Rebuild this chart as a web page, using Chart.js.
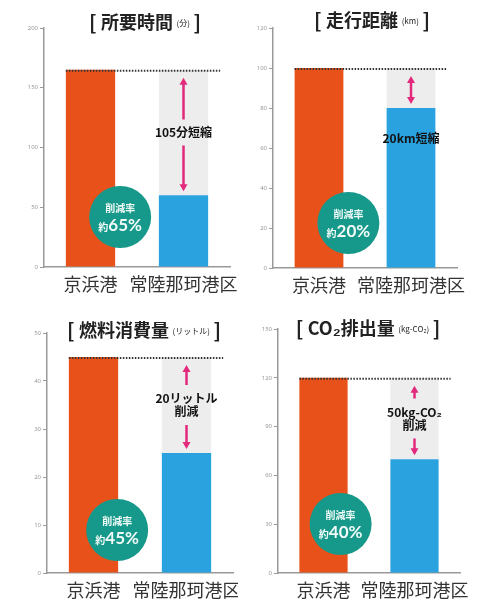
<!DOCTYPE html>
<html lang="ja">
<head>
<meta charset="utf-8">
<script src="https://cdn.jsdelivr.net/npm/chart.js@4"></script>
<style>
  body { margin: 0; background: #fff; }
  #wrap { position: relative; width: 477px; height: 605px; }
  canvas { position: absolute; }
</style>
</head>
<body>
<div id="wrap">
  <canvas id="c1" width="238" height="302" style="left:0;top:0"></canvas>
  <canvas id="c2" width="239" height="302" style="left:238px;top:0"></canvas>
  <canvas id="c3" width="238" height="303" style="left:0;top:302px"></canvas>
  <canvas id="c4" width="239" height="303" style="left:238px;top:302px"></canvas>
</div>
<script>
// 港別の比較データ
var categories = ['京浜港', '常陸那珂港区'];
var timeValues = [165, 60];       // 所要時間 (分)
var distanceValues = [100, 80];   // 走行距離 (km)
var fuelValues = [45, 25];        // 燃料消費量 (リットル)
var co2Values = [120, 70];        // CO2排出量 (kg-CO2)
var rateLabels = ['65%', '20%', '45%', '40%'];
var cutLabels = [['105分短縮'], ['20km短縮'], ['20リットル', '削減'], ['50kg-CO₂', '削減']];

var ORANGE = '#e8521a';
var BLUE = '#2aa2e0';
var GREEN = '#16988a';
var PINK = '#e2297c';
var JP = '"Noto Sans CJK JP", sans-serif';

function arrowHead(ctx, x, y, dir) {
    ctx.beginPath();
    ctx.moveTo(x, y);
    ctx.lineTo(x - 4, y - dir * 7);
    ctx.lineTo(x + 4, y - dir * 7);
    ctx.closePath();
    ctx.fill();
}

var cutPlugin = {
    id: 'cut',
    beforeDatasetsDraw: function(chart, args, o) {
        var bars = chart.getDatasetMeta(0).data;
        var b = bars[1];
        var ctx = chart.ctx;
        ctx.save();
        ctx.fillStyle = '#ededed';
        ctx.fillRect(b.x - b.width / 2, bars[0].y, b.width, b.y - bars[0].y);
        ctx.restore();
    },
    afterDatasetsDraw: function(chart, args, o) {
        var ctx = chart.ctx;
        var bars = chart.getDatasetMeta(0).data;
        var a = bars[0], b = bars[1];
        var area = chart.chartArea;
        ctx.save();

        // 点線 (京浜港の値)
        ctx.strokeStyle = '#333';
        ctx.lineWidth = 2;
        ctx.setLineDash([1.5, 1.5]);
        ctx.beginPath();
        ctx.moveTo(a.x - a.width / 2, a.y + 1);
        ctx.lineTo(b.x + b.width / 2 + 12, a.y + 1);
        ctx.stroke();
        ctx.setLineDash([]);

        // 差分の矢印
        var top = a.y + 8, bot = b.y - 4;
        var mid = (a.y + b.y) / 2;
        var lines = o.label;
        ctx.strokeStyle = PINK;
        ctx.fillStyle = PINK;
        ctx.lineWidth = 2.5;
        ctx.beginPath();
        if (o.inBar) {
            ctx.moveTo(b.x, top + 6);
            ctx.lineTo(b.x, bot - 6);
        } else {
            var gap = lines.length * 7 + 6;
            ctx.moveTo(b.x, top + 6);
            ctx.lineTo(b.x, mid - gap);
            ctx.moveTo(b.x, mid + gap);
            ctx.lineTo(b.x, bot - 6);
        }
        ctx.stroke();
        arrowHead(ctx, b.x, top, -1);
        arrowHead(ctx, b.x, bot, 1);

        // 差分の文字
        ctx.fillStyle = '#111';
        ctx.font = 'bold 12px ' + JP;
        ctx.textAlign = 'center';
        ctx.textBaseline = 'middle';
        var ty = o.inBar ? b.y + 30 : mid - (lines.length - 1) * 6.5;
        lines.forEach(function(t, i) {
            ctx.fillText(t, b.x, ty + i * 13);
        });

        // 削減率の円
        var cx = a.x + a.width / 2 + o.circle[0];
        var cy = area.bottom - o.circle[1];
        ctx.fillStyle = GREEN;
        ctx.beginPath();
        ctx.arc(cx, cy, 31, 0, Math.PI * 2);
        ctx.fill();
        ctx.fillStyle = '#f2fbf8';
        ctx.font = 'bold 10px ' + JP;
        ctx.fillText('削減率', cx, cy - 9);
        ctx.font = 'bold 17px Lato, sans-serif';
        var pw = ctx.measureText(o.rate).width;
        ctx.font = 'bold 10px ' + JP;
        var kw = ctx.measureText('約').width;
        var x0 = cx - (pw + kw) / 2;
        ctx.textAlign = 'left';
        ctx.fillText('約', x0, cy + 10);
        ctx.font = 'bold 17px Lato, sans-serif';
        ctx.fillText(o.rate, x0 + kw, cy + 9);

        // 見出し
        var parts = [
            { t: '[ ', f: 'bold 20px ' + JP, dy: 0 },
            { t: o.title, f: 'bold 18px ' + JP, dy: 0 },
            { t: '  ' + o.unit + '  ', f: '8px ' + JP, dy: 1 },
            { t: ']', f: 'bold 20px ' + JP, dy: 0 }
        ];
        var total = 0;
        parts.forEach(function(p) { ctx.font = p.f; p.w = ctx.measureText(p.t).width; total += p.w; });
        var x = o.titleX - total / 2;
        ctx.fillStyle = '#222';
        ctx.textBaseline = 'middle';
        parts.forEach(function(p) {
            ctx.font = p.f;
            ctx.fillText(p.t, x, o.titleY + p.dy);
            x += p.w;
        });
        ctx.restore();
    }
};

function makeChart(id, values, max, step, area, extra) {
    var canvas = document.getElementById(id);
    var w = canvas.width, h = canvas.height;
    return new Chart(canvas.getContext('2d'), {
        type: 'bar',
        data: {
            labels: categories,
            datasets: [{
                data: values,
                backgroundColor: [ORANGE, BLUE],
                barPercentage: 0.53,
                categoryPercentage: 1
            }]
        },
        options: {
            responsive: false,
            animation: false,
            layout: { padding: { left: 0, top: area.top, right: w - area.right, bottom: 0 } },
            plugins: {
                legend: { display: false },
                tooltip: { enabled: false },
                cut: extra
            },
            scales: {
                x: {
                    grid: { display: false, drawTicks: false },
                    border: { color: '#999', width: 1.5 },
                    ticks: {
                        color: '#333', padding: 6, maxRotation: 0, autoSkip: false,
                        font: { family: JP, size: 18 }
                    },
                    afterFit: function(s) {
                        s.height = h - area.bottom;
                        s.paddingLeft = 0;
                        s.paddingRight = 0;
                    }
                },
                y: {
                    min: 0, max: max,
                    grid: { drawOnChartArea: false, tickLength: 4, color: '#999' },
                    border: { color: '#999', width: 1.5 },
                    ticks: { stepSize: step, padding: 2, color: '#999', font: { family: 'Noto Sans', size: 6 } },
                    afterFit: function(s) {
                        s.width = area.left;
                        s.paddingTop = 0;
                        s.paddingBottom = 0;
                    }
                }
            }
        },
        plugins: [cutPlugin]
    });
}

makeChart('c1', timeValues, 200, 50, { left: 44, right: 230, top: 28, bottom: 267 },
    { label: cutLabels[0], rate: rateLabels[0], circle: [5, 50], title: '所要時間', unit: '(分)', titleX: 145, titleY: 22 });
makeChart('c2', distanceValues, 120, 20, { left: 35, right: 219, top: 28, bottom: 268 },
    { label: cutLabels[1], inBar: true, rate: rateLabels[1], circle: [5, 45], title: '走行距離', unit: '(km)', titleX: 134, titleY: 20 });
makeChart('c3', fuelValues, 50, 10, { left: 47, right: 233, top: 31, bottom: 271 },
    { label: cutLabels[2], rate: rateLabels[2], circle: [-1, 43], title: '燃料消費量', unit: '(リットル)', titleX: 144, titleY: 28 });
makeChart('c4', co2Values, 150, 30, { left: 40, right: 222, top: 27, bottom: 271 },
    { label: cutLabels[3], rate: rateLabels[3], circle: [-7, 49], title: 'CO₂排出量', unit: '(kg-CO₂)', titleX: 130, titleY: 26 });
</script>
</body>
</html>
